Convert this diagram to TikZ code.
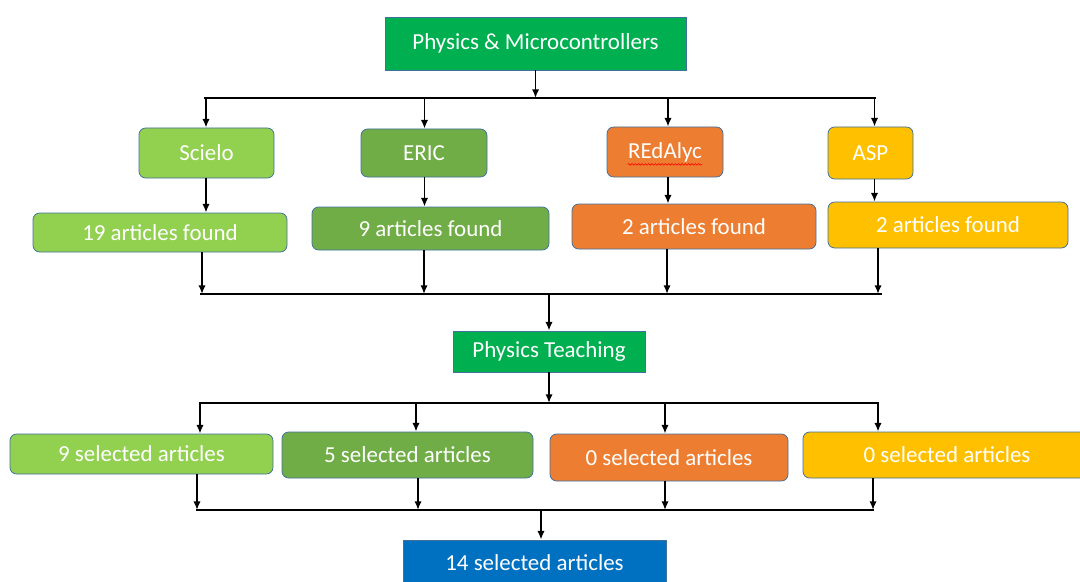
\documentclass[tikz,border=0pt]{standalone}
\usepackage{fontspec}
\setmainfont{Carlito}
\usetikzlibrary{arrows.meta,decorations.pathmorphing}
\definecolor{cLime}{HTML}{92D050}
\definecolor{cGreen}{HTML}{70AD47}
\definecolor{cOrange}{HTML}{ED7D31}
\definecolor{cYellow}{HTML}{FFC000}
\definecolor{cBright}{HTML}{00B050}
\definecolor{cBlue}{HTML}{0070C0}
\definecolor{cBorder}{HTML}{41719C}
\tikzset{
  box/.style={draw=cBorder, line width=0.6pt, text=white, inner sep=0pt,
    font=\fontsize{17.2}{19}\selectfont, align=center},
  rbox/.style={box, rounded corners=5pt},
  arr/.style={line width=1.4pt, -{Latex[length=6.5pt,width=5.5pt]}},
  bus/.style={line width=1.9pt},
}
\begin{document}
\begin{tikzpicture}[x=0.75pt,y=-0.75pt]
\useasboundingbox (0,0) rectangle (1080,581);
% nodes
\node[box, fill=cBright, minimum width=225.75pt, minimum height=39.75pt] (top) at (535.5,43.5) {Physics \& Microcontrollers};
\node[rbox, fill=cLime, minimum width=101.25pt, minimum height=37.5pt] (scielo) at (206.5,153) {Scielo};
\node[rbox, fill=cGreen, minimum width=94.5pt, minimum height=36pt] (eric) at (424,153) {ERIC};
\node[rbox, fill=cOrange, minimum width=87pt, minimum height=37.5pt] (redalyc) at (665,152) {REdAlyc};
\node[rbox, fill=cYellow, minimum width=63.75pt, minimum height=39pt] (asp) at (870.5,153) {ASP};
\node[rbox, fill=cLime, minimum width=190.5pt, minimum height=29.25pt] (f1) at (160,232.5) {19 articles found};
\node[rbox, fill=cGreen, minimum width=177.75pt, minimum height=32.25pt] (f2) at (430.5,228.5) {9 articles found};
\node[rbox, fill=cOrange, minimum width=183pt, minimum height=33.75pt] (f3) at (694,226.5) {2 articles found};
\node[rbox, fill=cYellow, minimum width=180pt, minimum height=34.5pt] (f4) at (948,225) {2 articles found};
\node[box, fill=cBright, minimum width=144pt, minimum height=30.75pt] (pt) at (549,351.5) {Physics Teaching};
\node[rbox, fill=cLime, minimum width=197.25pt, minimum height=30pt] (s1) at (141.5,454) {9 selected articles};
\node[rbox, fill=cGreen, minimum width=188.25pt, minimum height=34.5pt] (s2) at (407.5,455) {5 selected articles};
\node[rbox, fill=cOrange, minimum width=178.5pt, minimum height=35.25pt] (s3) at (669,457.5) {0 selected articles};
\node[rbox, fill=cYellow, minimum width=216pt, minimum height=34.5pt] (s4) at (947,455) {0 selected articles};
\node[box, fill=cBlue, minimum width=197.25pt, minimum height=34.5pt] (fin) at (534.5,563) {14 selected articles};
% spell-check squiggle under REdAlyc
\draw[red, line width=0.45pt, decorate, decoration={snake, amplitude=0.6pt, segment length=2.5pt}]
  ([xshift=-28pt,yshift=-9.3pt]redalyc.center) -- ([xshift=28pt,yshift=-9.3pt]redalyc.center);
% column coordinates
\coordinate (u1) at (206,0); \coordinate (u2) at (424.5,0); \coordinate (u3) at (668,0); \coordinate (u4) at (874.5,0);
\coordinate (v1) at (202,0); \coordinate (v2) at (424,0); \coordinate (v3) at (667,0); \coordinate (v4) at (878,0);
\coordinate (w1) at (200,0); \coordinate (w2) at (416,0); \coordinate (w3) at (665,0); \coordinate (w4) at (878,0);
\coordinate (z1) at (197,0); \coordinate (z2) at (418,0); \coordinate (z3) at (665,0); \coordinate (z4) at (873,0);
% bus lines
\coordinate (b1l) at (204,98); \coordinate (b1r) at (876,98);
\coordinate (b2l) at (200,294); \coordinate (b2r) at (882,294);
\coordinate (b3l) at (199,403); \coordinate (b3r) at (879,403);
\coordinate (b4l) at (196,510); \coordinate (b4r) at (874,510);
\draw[bus] (b1l) -- (b1r);
\draw[bus] (b2l) -- (b2r);
\draw[bus] (b3l) -- (b3r);
\draw[bus] (b4l) -- (b4r);
% connectors
\draw[arr] (top.south) -- (top.south |- b1l);
\draw[arr] (u1 |- b1l) -- (u1 |- scielo.north);
\draw[arr] (u2 |- b1l) -- (u2 |- eric.north);
\draw[arr] (u3 |- b1l) -- (u3 |- redalyc.north);
\draw[arr] (u4 |- b1l) -- (u4 |- asp.north);
\draw[arr] (u1 |- scielo.south) -- (u1 |- f1.north);
\draw[arr] (u2 |- eric.south) -- (u2 |- f2.north);
\draw[arr] (u3 |- redalyc.south) -- (u3 |- f3.north);
\draw[arr] (u4 |- asp.south) -- (u4 |- f4.north);
\draw[arr] (v1 |- f1.south) -- (v1 |- b2l);
\draw[arr] (v2 |- f2.south) -- (v2 |- b2l);
\draw[arr] (v3 |- f3.south) -- (v3 |- b2l);
\draw[arr] (v4 |- f4.south) -- (v4 |- b2l);
\draw[arr] (pt.north |- b2l) -- (pt.north);
\draw[arr] (pt.south) -- (pt.south |- b3l);
\draw[arr] (w1 |- b3l) -- (w1 |- s1.north);
\draw[arr] (w2 |- b3l) -- (w2 |- s2.north);
\draw[arr] (w3 |- b3l) -- (w3 |- s3.north);
\draw[arr] (w4 |- b3l) -- (w4 |- s4.north);
\draw[arr] (z1 |- s1.south) -- (z1 |- b4l);
\draw[arr] (z2 |- s2.south) -- (z2 |- b4l);
\draw[arr] (z3 |- s3.south) -- (z3 |- b4l);
\draw[arr] (z4 |- s4.south) -- (z4 |- b4l);
\coordinate (fx) at (541,0);
\draw[arr] (fx |- b4l) -- (fx |- fin.north);
\end{tikzpicture}
\end{document}
